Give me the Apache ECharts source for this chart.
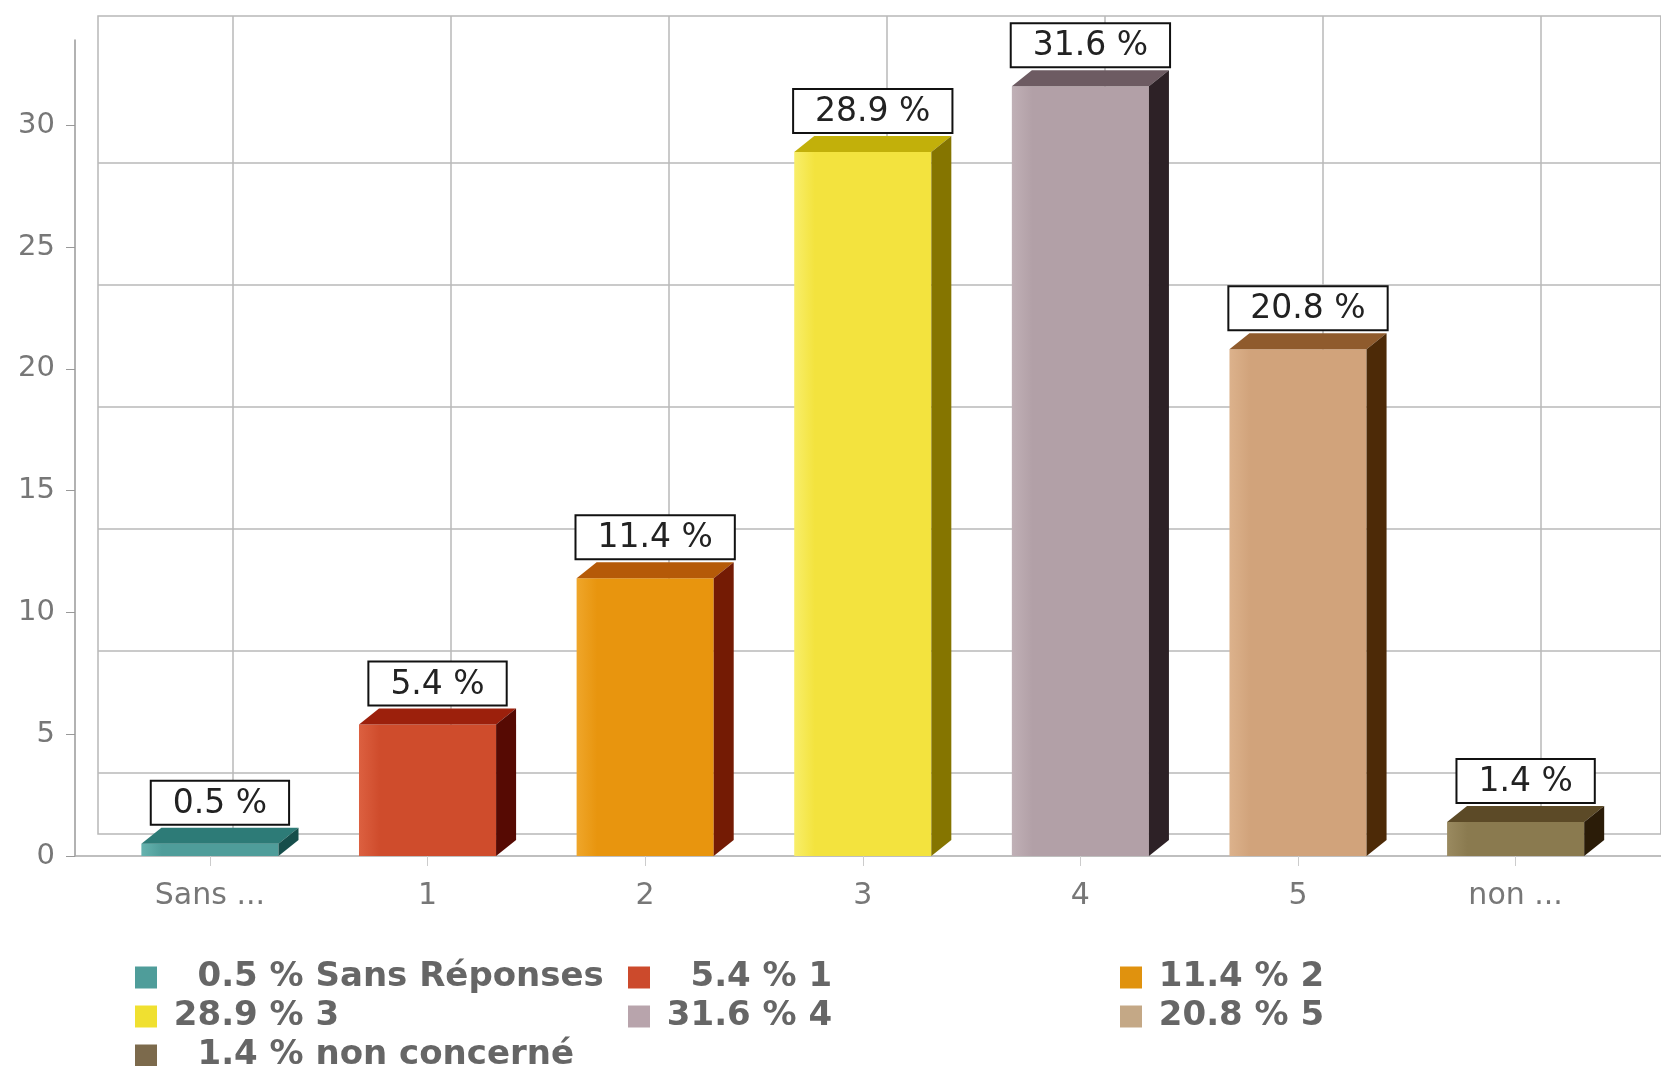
<!DOCTYPE html>
<html>
<head>
<meta charset="utf-8">
<script src="https://cdn.jsdelivr.net/npm/echarts@6/dist/echarts.min.js"></script>
<style>
html,body{margin:0;padding:0;background:#fff;}
#c{width:1661px;height:1066px;}
</style>
</head>
<body>
<div id="c"></div>
<script>
// ---- data ----
var categories = ['Sans Réponses', '1', '2', '3', '4', '5', 'non concerné'];
var tickLabels = ['Sans ...', '1', '2', '3', '4', '5', 'non ...'];
var values = [0.5, 5.4, 11.4, 28.9, 31.6, 20.8, 1.4];
var yTicks = [0, 5, 10, 15, 20, 25, 30];

// ---- styles ----
var frontColors = ['#4f9d9a', '#cf4c2c', '#e8950e', '#f3e33e', '#b2a0a7', '#d1a37b', '#8a7a4f'];
var lightColors = ['#66b3af', '#dc6040', '#efa62a', '#f8ee6a', '#c0b0b6', '#dcb28c', '#9a8a60'];
var topColors   = ['#2d7b77', '#9c200c', '#b55a08', '#c2b00a', '#6d5b62', '#8f5b2d', '#5c4a27'];
var sideColors  = ['#164e4b', '#560a03', '#741b04', '#857500', '#2d2126', '#4d2a07', '#2b1c08'];
var legendColors = ['#4f9d9a', '#cc4a2c', '#e0920e', '#f0e030', '#b8a4ac', '#c4a886', '#7c6a4c'];

var DX = 20, DY = 16;
var FONT = 'DejaVu Sans';
var GRID_COLOR = '#b8b8b8';

function renderBar(params, api) {
  var i = params.seriesIndex;
  var xv = api.value(0), v = api.value(1);
  var top = api.coord([xv, v]);
  var base = api.coord([xv, 0]);
  var w = api.size([1, 0])[0] * 0.63;
  var x0 = top[0] - w / 2, x1 = top[0] + w / 2;
  var yT = top[1], yB = base[1];
  return {
    type: 'group',
    children: [
      { type: 'rect', shape: { x: x0, y: yT, width: w, height: yB - yT },
        style: { fill: { type: 'linear', x: 0, y: 0, x2: 1, y2: 0,
          colorStops: [{ offset: 0, color: lightColors[i] }, { offset: 0.15, color: frontColors[i] }, { offset: 1, color: frontColors[i] }] } } },
      { type: 'polygon', shape: { points: [[x0, yT], [x1, yT], [x1 + DX, yT - DY], [x0 + DX, yT - DY]] },
        style: { fill: topColors[i] } },
      { type: 'polygon', shape: { points: [[x1, yT], [x1 + DX, yT - DY], [x1 + DX, yB - DY], [x1, yB]] },
        style: { fill: sideColors[i] } },
      { type: 'text', x: (x0 + x1 + DX) / 2, y: yT - DY - 4,
        style: { text: v.toFixed(1) + ' %', fontFamily: FONT, fontSize: 33, fill: '#222',
          align: 'center', verticalAlign: 'bottom', backgroundColor: '#fff',
          borderColor: '#111', borderWidth: 2, padding: [6, 21, 3, 21] } }
    ]
  };
}

var series = categories.map(function (name, i) {
  return {
    type: 'custom', name: name, xAxisIndex: 3, yAxisIndex: 3,
    itemStyle: { color: legendColors[i] },
    renderItem: renderBar,
    data: [[i, values[i]]],
    z: 5
  };
});

function legendFmt(name) {
  var i = categories.indexOf(name);
  var num = values[i].toFixed(1);
  var pad = num.length < 4 ? '\u2007' : '';
  return ' ' + pad + num + ' % ' + name;
}
var legendText = { fontFamily: FONT, fontSize: 34, fontWeight: 'bold', color: '#666', lineHeight: 39 };
function mkLegend(idx, left) {
  return {
    orient: 'vertical', left: left, top: 958, height: 140, padding: 0,
    itemGap: 0, itemWidth: 22, itemHeight: 22,
    icon: 'rect', selectedMode: false,
    data: idx.map(function (k) { return categories[k]; }),
    formatter: legendFmt, textStyle: legendText
  };
}

var hidden = { axisLine: { show: false }, axisTick: { show: false }, axisLabel: { show: false }, splitLine: { show: false } };
function hiddenAxis(extra) { return Object.assign({}, hidden, extra); }
var gridLine = { show: true, lineStyle: { color: GRID_COLOR, width: 1.5 } };

var option = {
  backgroundColor: '#fff',
  animation: false,
  grid: [
    // back wall frame
    { left: 98, right: -5, top: 16, bottom: 232, show: true, borderColor: GRID_COLOR, borderWidth: 1.5, backgroundColor: 'transparent' },
    // back wall horizontal lines
    { left: 98, right: 0, top: 163, bottom: 293, show: false },
    // back wall vertical lines
    { left: 233, right: 0, top: 16, bottom: 232, show: false },
    // front plot
    { left: 75, right: 0, top: 40, bottom: 210, show: false }
  ],
  xAxis: [
    hiddenAxis({ gridIndex: 0, type: 'value', min: 0, max: 1 }),
    hiddenAxis({ gridIndex: 1, type: 'value', min: 0, max: 1 }),
    hiddenAxis({ gridIndex: 2, type: 'value', min: 0, max: 6.55, interval: 1, splitLine: gridLine }),
    { gridIndex: 3, type: 'value', min: -0.620, max: 6.668, interval: 1,
      axisLine: { show: true, onZero: false, lineStyle: { color: '#aaa', width: 1.5 } },
      axisTick: { show: true, customValues: [0, 1, 2, 3, 4, 5, 6], length: 10, lineStyle: { color: '#ccc' } },
      axisLabel: { show: true, customValues: [0, 1, 2, 3, 4, 5, 6], margin: 25,
        fontFamily: FONT, fontSize: 30, color: '#777',
        formatter: function (v) { var k = Math.round(v); return (Math.abs(v - k) < 1e-6 && tickLabels[k] !== undefined) ? tickLabels[k] : ''; } },
      splitLine: { show: false } }
  ],
  yAxis: [
    hiddenAxis({ gridIndex: 0, type: 'value', min: 0, max: 1 }),
    hiddenAxis({ gridIndex: 1, type: 'value', min: 0, max: 25, interval: 5, splitLine: gridLine }),
    hiddenAxis({ gridIndex: 2, type: 'value', min: 0, max: 1 }),
    { gridIndex: 3, type: 'value', min: 0, max: 33.5, interval: 5,
      axisLine: { show: true, onZero: false, lineStyle: { color: '#999', width: 1.5 } },
      axisTick: { show: true, customValues: yTicks, length: 9, lineStyle: { color: '#999' } },
      axisLabel: { show: true, customValues: yTicks, margin: 20, fontFamily: FONT, fontSize: 29, color: '#777',
        formatter: function (v) { return yTicks.indexOf(v) >= 0 ? String(v) : ''; } },
      splitLine: { show: false } }
  ],
  legend: [
    mkLegend([0, 3, 6], 135),
    mkLegend([1, 4], 628),
    mkLegend([2, 5], 1120)
  ],
  series: series
};

var chart = echarts.init(document.getElementById('c'), null, { renderer: 'canvas' });
chart.setOption(option);
</script>
</body>
</html>
